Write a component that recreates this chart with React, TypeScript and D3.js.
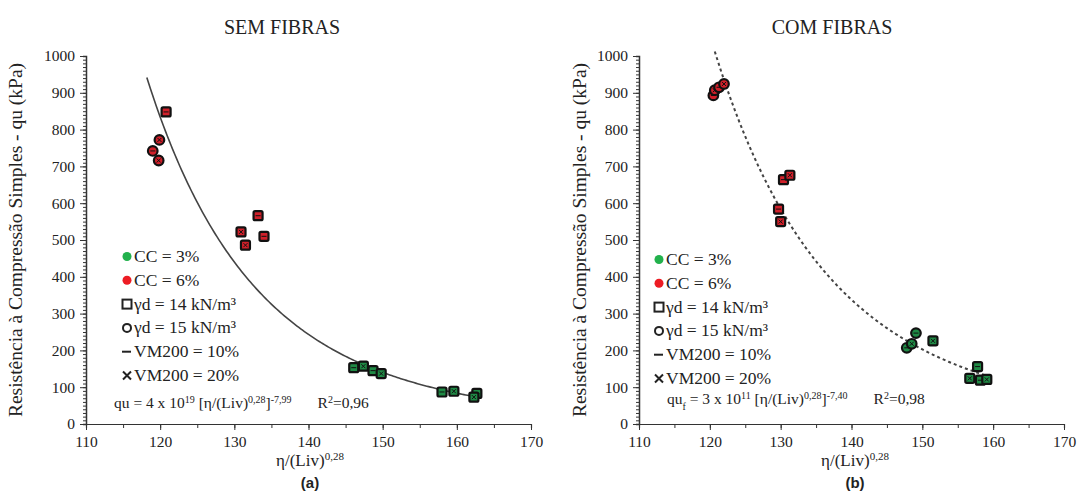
import * as d3 from "d3";
import React, { useEffect, useRef } from "react";

// SEM FIBRAS (a)
const semX = [120.8, 119.9, 119.0, 119.8, 133.2, 130.9, 134.0, 131.5, 146.1, 147.4, 148.7, 149.8, 158.0, 159.6, 162.7, 162.3];
const semY = [848, 772, 742, 716, 566, 522, 510, 486, 153, 157, 145, 137, 87, 89, 83, 73];
const semCC = [6, 6, 6, 6, 6, 6, 6, 6, 3, 3, 3, 3, 3, 3, 3, 3];
const semGd = [14, 15, 15, 15, 14, 14, 14, 14, 14, 14, 14, 14, 14, 14, 14, 14];
const semVM = [10, 20, 10, 20, 10, 20, 10, 20, 10, 20, 10, 20, 10, 20, 10, 20];

// COM FIBRAS (b)
const comX = [120.5, 120.7, 121.3, 122.0, 130.4, 131.3, 129.7, 130.0, 147.8, 148.5, 149.1, 151.5, 157.8, 156.7, 158.2, 159.1];
const comY = [893, 907, 915, 924, 664, 676, 584, 550, 207, 218, 247, 226, 156, 124, 119, 121];
const comCC = [6, 6, 6, 6, 6, 6, 6, 6, 3, 3, 3, 3, 3, 3, 3, 3];
const comGd = [15, 15, 15, 15, 14, 14, 14, 14, 15, 15, 15, 14, 14, 14, 14, 14];
const comVM = [10, 20, 10, 20, 10, 20, 10, 20, 10, 20, 10, 20, 10, 20, 10, 20];

// ticks
const xTicks = [110, 120, 130, 140, 150, 160, 170];
const yTicks = [0, 100, 200, 300, 400, 500, 600, 700, 800, 900, 1000];

// trend lines qu = a * x^b (a tuned to the drawn curve)
const semFit = { a: 3.42e19, b: -7.99, from: 118.2, to: 163.2 };
const comFit = { a: 1000 * Math.pow(120.9, 7.4), b: -7.4, from: 120.7, to: 159.5 };

const legendLabels = ["CC = 3%", "CC = 6%", "\u03b3d = 14 kN/m\u00b3", "\u03b3d = 15 kN/m\u00b3", "VM200 = 10%", "VM200 = 20%"];

const SERIF = "'Liberation Serif', 'Times New Roman', serif";
const RED = "#d0202a";
const GREEN = "#1f8a45";

function drawPanel(svg, p) {
  var x = d3.scaleLinear().domain([110, 170]).range([p.x0, p.x1]);
  var y = d3.scaleLinear().domain([0, 1000]).range([424, 56]);

  // y axis, minor ticks every 10
  var yMinor = d3.range(0, 1001, 10);
  svg.append("g")
    .attr("transform", "translate(" + p.x0 + ",0)")
    .call(d3.axisLeft(y).tickValues(yMinor).tickSize(3).tickFormat(() => ""))
    .call(g => g.select(".domain").attr("stroke", "#333").attr("stroke-width", 1.5))
    .call(g => g.selectAll("line").attr("stroke", "#333"));
  svg.append("g")
    .attr("transform", "translate(" + p.x0 + ",0)")
    .call(d3.axisLeft(y).tickValues(yTicks).tickSize(6).tickPadding(5).tickFormat(d3.format("d")))
    .call(g => g.select(".domain").remove())
    .call(g => g.selectAll("line").attr("stroke", "#333"))
    .call(g => g.selectAll("text").attr("font-family", SERIF).attr("font-size", 15.5).attr("fill", "#222"));

  // x axis
  svg.append("g")
    .attr("transform", "translate(0,424)")
    .call(d3.axisBottom(x).tickValues(d3.range(110, 171, 5)).tickSize(4).tickFormat(() => ""))
    .call(g => g.select(".domain").attr("stroke", "#333").attr("stroke-width", 1.2))
    .call(g => g.selectAll("line").attr("stroke", "#333"));
  svg.append("g")
    .attr("transform", "translate(0,424)")
    .call(d3.axisBottom(x).tickValues(xTicks).tickSize(6).tickPadding(6))
    .call(g => g.select(".domain").remove())
    .call(g => g.selectAll("line").attr("stroke", "#333"))
    .call(g => g.selectAll("text").attr("font-family", SERIF).attr("font-size", 15.5).attr("fill", "#222"));

  // titles
  svg.append("text")
    .attr("x", p.titleX).attr("y", 34)
    .attr("text-anchor", "middle")
    .attr("font-family", SERIF).attr("font-size", 20).attr("fill", "#222")
    .text(p.title);

  svg.append("text")
    .attr("transform", "translate(" + p.yLabelX + ",240) rotate(-90)")
    .attr("text-anchor", "middle")
    .attr("font-family", SERIF).attr("font-size", 19.5).attr("fill", "#222")
    .text("Resist\u00eancia \u00e0 Compress\u00e3o Simples - qu (kPa)");

  var xt = svg.append("text")
    .attr("x", p.xLabelX).attr("y", 466)
    .attr("text-anchor", "middle")
    .attr("font-family", SERIF).attr("font-size", 17).attr("fill", "#222");
  xt.append("tspan").text("\u03b7/(Liv)");
  xt.append("tspan").attr("baseline-shift", "super").attr("font-size", 11).text("0,28");

  svg.append("text")
    .attr("x", p.xLabelX).attr("y", 488)
    .attr("text-anchor", "middle")
    .attr("font-family", "'Liberation Sans', Arial, sans-serif").attr("font-weight", "bold")
    .attr("font-size", 15).attr("fill", "#222")
    .text(p.tag);

  // trend line
  var pts = d3.range(p.fit.from, p.fit.to + 0.01, 0.25).map(v => [v, p.fit.a * Math.pow(v, p.fit.b)]);
  svg.append("path")
    .datum(pts)
    .attr("fill", "none")
    .attr("stroke", "#444")
    .attr("stroke-width", p.dashed ? 2 : 1.6)
    .attr("stroke-dasharray", p.dashed ? "3,3" : null)
    .attr("d", d3.line().x(d => x(d[0])).y(d => y(d[1])));

  // legend
  var lg = svg.append("g").attr("font-family", SERIF).attr("font-size", 17.5).attr("fill", "#222");
  legendLabels.forEach((t, i) => {
    var ly = p.legY + i * 23.8;
    var ix = p.legX;
    if (i == 0 || i == 1) {
      lg.append("circle").attr("cx", ix).attr("cy", ly - 5.5).attr("r", 4.5).attr("fill", i == 0 ? "#22b14c" : "#ed1c24");
    } else if (i == 2) {
      lg.append("rect").attr("x", ix - 4.5).attr("y", ly - 10).attr("width", 9).attr("height", 9).attr("fill", "none").attr("stroke", "#222").attr("stroke-width", 2);
    } else if (i == 3) {
      lg.append("circle").attr("cx", ix).attr("cy", ly - 5.5).attr("r", 4).attr("fill", "none").attr("stroke", "#222").attr("stroke-width", 2);
    } else if (i == 4) {
      lg.append("line").attr("x1", ix - 5).attr("x2", ix + 4).attr("y1", ly - 5.5).attr("y2", ly - 5.5).attr("stroke", "#222").attr("stroke-width", 2);
    } else {
      lg.append("path").attr("d", `M${ix - 4},${ly - 9.5}L${ix + 4},${ly - 1.5}M${ix + 4},${ly - 9.5}L${ix - 4},${ly - 1.5}`).attr("stroke", "#222").attr("stroke-width", 2);
    }
    lg.append("text").attr("x", ix + 7).attr("y", ly).text(t);
  });

  // equation
  var eq = svg.append("text")
    .attr("x", p.eqX).attr("y", p.eqY)
    .attr("font-family", SERIF).attr("font-size", 15.5).attr("fill", "#222");
  eq.append("tspan").text(p.eq.lhs);
  if (p.eq.sub) eq.append("tspan").attr("baseline-shift", "sub").attr("font-size", 10).text(p.eq.sub);
  eq.append("tspan").text(" = " + p.eq.coef + " x 10");
  eq.append("tspan").attr("baseline-shift", "super").attr("font-size", 10).text(p.eq.exp);
  eq.append("tspan").text("  [\u03b7/(Liv)");
  eq.append("tspan").attr("baseline-shift", "super").attr("font-size", 10).text("0,28");
  eq.append("tspan").text("]");
  eq.append("tspan").attr("baseline-shift", "super").attr("font-size", 10).text(p.eq.pow);
  eq.append("tspan").attr("dx", 26).text("R");
  eq.append("tspan").attr("baseline-shift", "super").attr("font-size", 10).text("2");
  eq.append("tspan").text("=" + p.eq.r2);

  // markers
  var m = svg.append("g");
  p.xs.forEach((v, i) => {
    var cx = x(v), cy = y(p.ys[i]);
    var fill = p.cc[i] == 3 ? GREEN : RED;
    if (p.gd[i] == 14) {
      m.append("rect").attr("x", cx - 4.5).attr("y", cy - 4.5).attr("width", 9).attr("height", 9).attr("rx", 1.5)
        .attr("fill", fill).attr("stroke", "#111").attr("stroke-width", 2.2);
    } else {
      m.append("circle").attr("cx", cx).attr("cy", cy).attr("r", 4.8)
        .attr("fill", fill).attr("stroke", "#111").attr("stroke-width", 2.2);
    }
    if (p.vm[i] == 10) {
      m.append("line").attr("x1", cx - 2.5).attr("x2", cx + 2.5).attr("y1", cy).attr("y2", cy).attr("stroke", "#111").attr("stroke-width", 1);
    } else {
      m.append("path").attr("d", `M${cx - 2},${cy - 2}L${cx + 2},${cy + 2}M${cx + 2},${cy - 2}L${cx - 2},${cy + 2}`).attr("stroke", "#111").attr("stroke-width", 1);
    }
  });
}

export default function App() {
  const ref = useRef(null);

  useEffect(() => {
    var svg = d3.select(ref.current);
    svg.selectAll("*").remove();
    svg.append("rect").attr("width", 1077).attr("height", 492).attr("fill", "#fff");

    drawPanel(svg, {
      x0: 86, x1: 531, title: "SEM FIBRAS", titleX: 282, yLabelX: 22, xLabelX: 310, tag: "(a)",
      fit: semFit, dashed: false, legX: 127, legY: 262, eqX: 114, eqY: 408,
      eq: { lhs: "qu", sub: "", coef: "4", exp: "19", pow: "-7,99", r2: "0,96" },
      xs: semX, ys: semY, cc: semCC, gd: semGd, vm: semVM
    });
    drawPanel(svg, {
      x0: 639, x1: 1064, title: "COM FIBRAS", titleX: 832, yLabelX: 586, xLabelX: 855, tag: "(b)",
      fit: comFit, dashed: true, legX: 659, legY: 265, eqX: 667, eqY: 404,
      eq: { lhs: "qu", sub: "f", coef: "3", exp: "11", pow: "-7,40", r2: "0,98" },
      xs: comX, ys: comY, cc: comCC, gd: comGd, vm: comVM
    });
  }, []);

  return (
    <svg ref={ref} width={1077} height={492} style={{ position: "absolute", left: 0, top: 0 }} />
  );
}
